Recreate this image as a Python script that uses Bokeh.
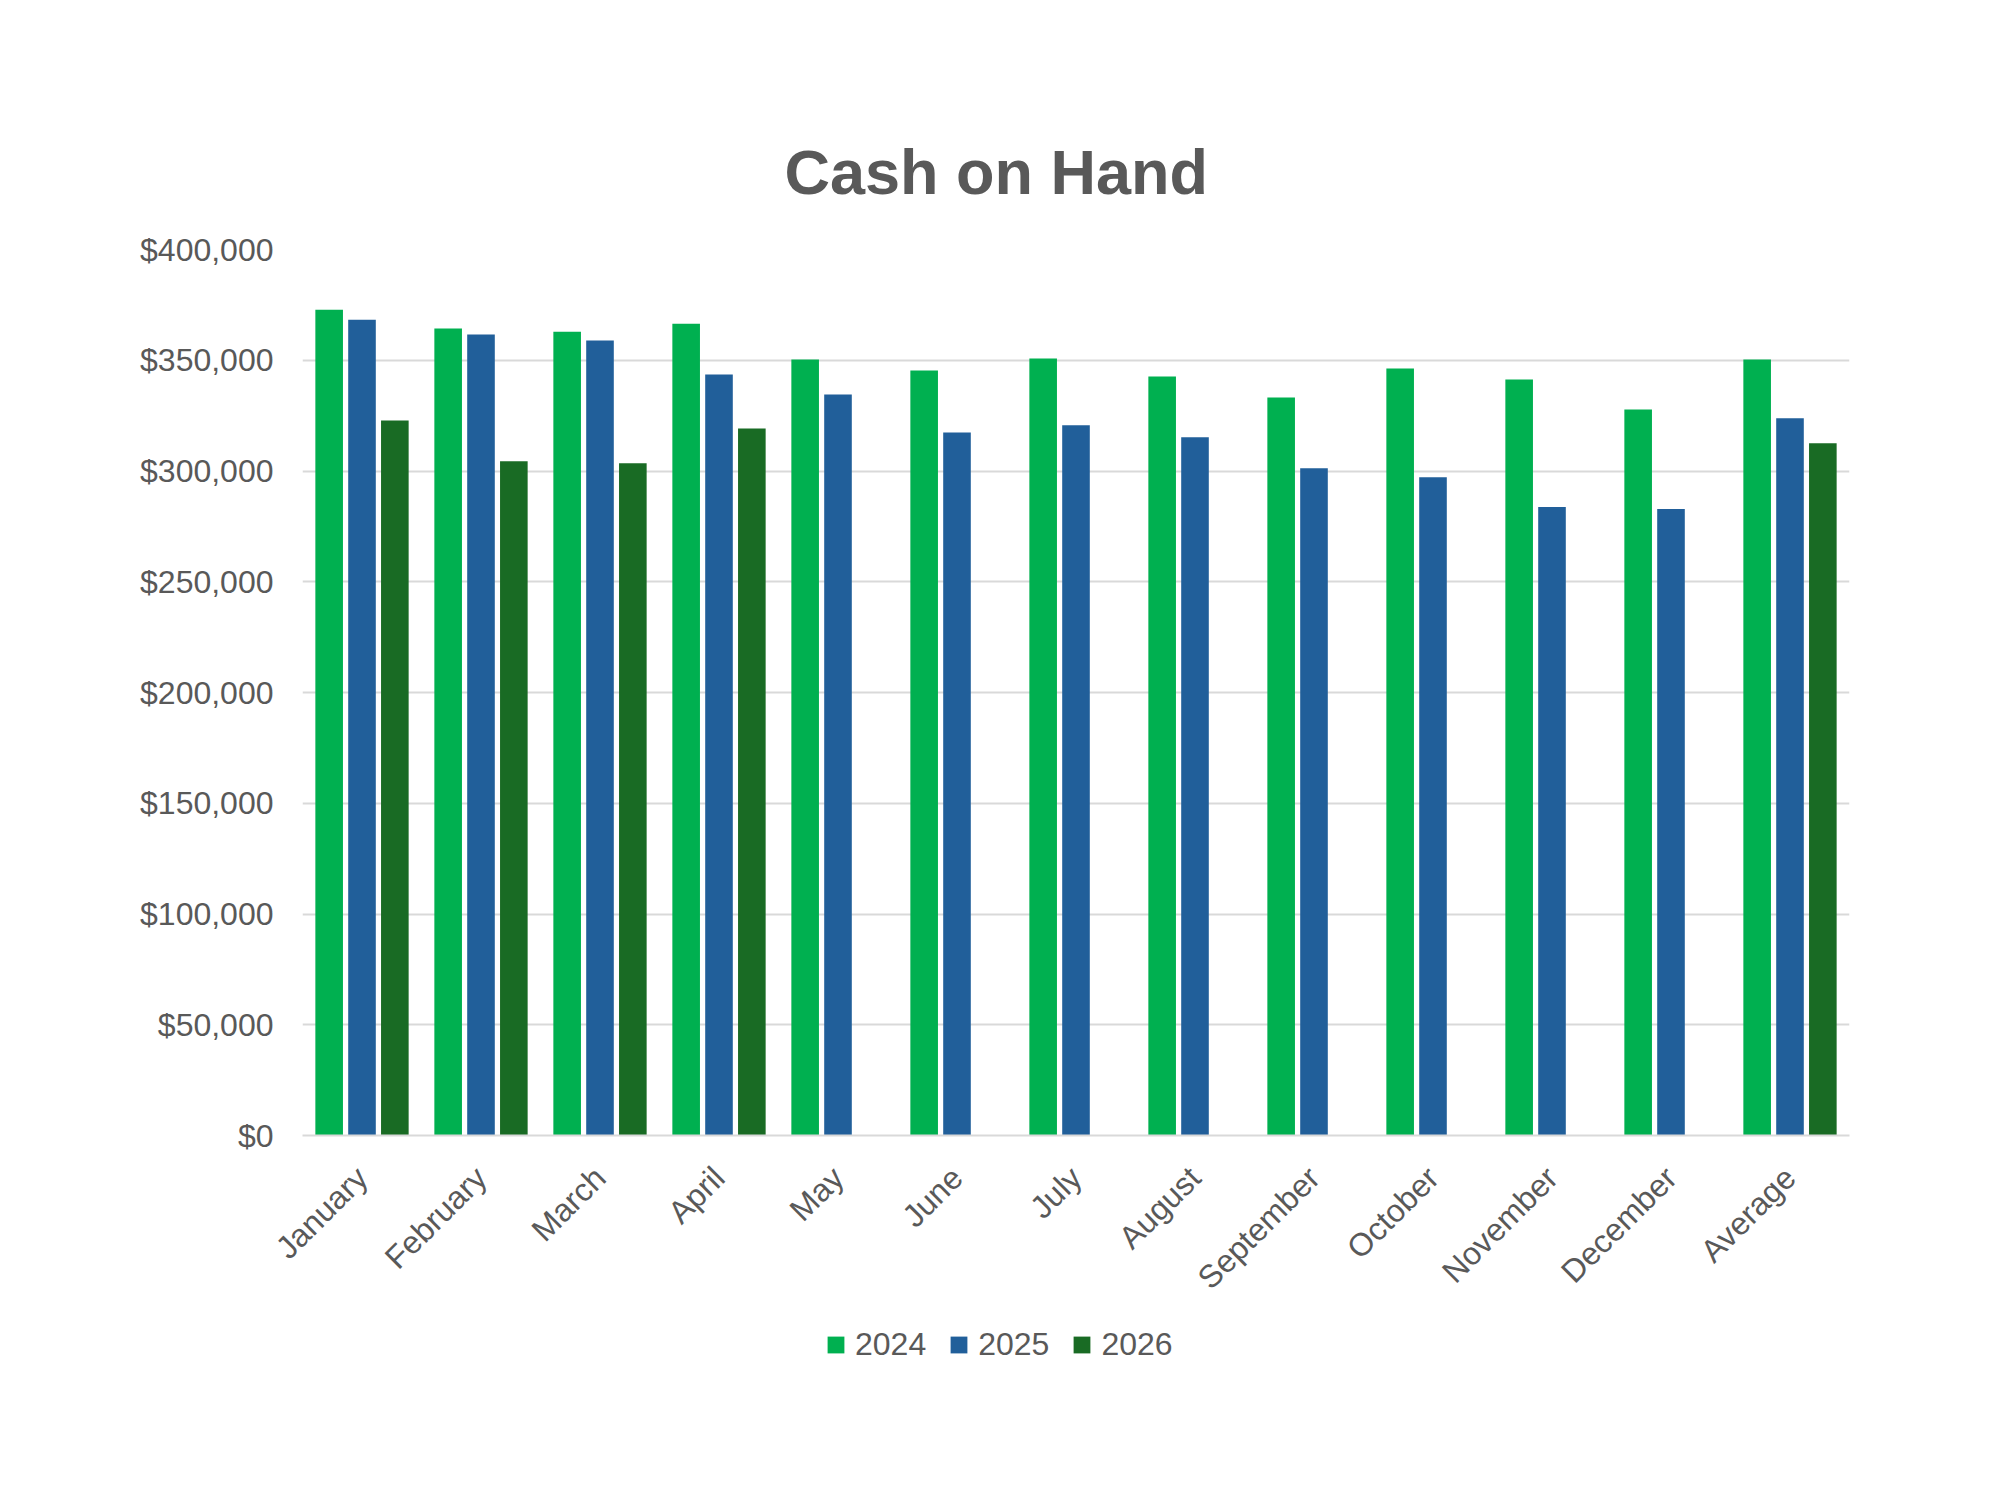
import math
from bokeh.plotting import figure
from bokeh.layouts import column
from bokeh.models import (ColumnDataSource, FactorRange, Range1d, Legend, LegendItem,
                          NumeralTickFormatter, FixedTicker)
from bokeh.transform import dodge
from bokeh.embed import file_html
from bokeh.resources import INLINE

# ---- data ----
months = ["January", "February", "March", "April", "May", "June", "July",
          "August", "September", "October", "November", "December", "Average"]
v2024 = [372800, 364300, 362900, 366500, 350300, 345400, 350800,
         342700, 333200, 346300, 341300, 327800, 350300]
v2025 = [368300, 361600, 358900, 343600, 334500, 317400, 320600,
         315200, 301200, 297200, 283700, 282800, 323800]
v2026 = [322800, 304400, 303500, 319200, None, None, None,
         None, None, None, None, None, 312500]
series_names = ["2024", "2025", "2026"]
y_ticks = [0, 50000, 100000, 150000, 200000, 250000, 300000, 350000, 400000]

colors = ["#00B050", "#215F9A", "#196B24"]
TEXT = "#595959"
GRID = "#D9D9D9"
FONT = "Liberation Sans"

p = figure(x_range=FactorRange(factors=months, range_padding=0),
           y_range=Range1d(0, 400000),
           frame_width=1547, frame_height=886,
           output_backend="svg", toolbar_location=None,
           min_border_left=302, min_border_right=135,
           min_border_top=249, min_border_bottom=172)

offsets = [-0.276, 0.0, 0.276]
for name, vals, col, off in zip(series_names, [v2024, v2025, v2026], colors, offsets):
    xs = [m for m, v in zip(months, vals) if v is not None]
    ys = [v for v in vals if v is not None]
    src = ColumnDataSource(data=dict(month=xs, value=ys))
    p.vbar(x=dodge("month", off, range=p.x_range), top="value", width=0.232,
           source=src, fill_color=col, line_color=None)

# axes
p.yaxis.ticker = FixedTicker(ticks=y_ticks)
p.yaxis.formatter = NumeralTickFormatter(format="$0,0")
p.yaxis.axis_line_color = None
p.yaxis.major_tick_line_color = None
p.yaxis.minor_tick_line_color = None
p.yaxis.major_tick_out = 0
p.yaxis.major_label_standoff = 29
p.yaxis.major_label_text_font = FONT
p.yaxis.major_label_text_font_size = "32px"
p.yaxis.major_label_text_color = TEXT

p.xaxis.axis_line_color = GRID
p.xaxis.axis_line_width = 2
p.xaxis.major_tick_line_color = None
p.xaxis.minor_tick_line_color = None
p.xaxis.major_tick_out = 0
p.xaxis.major_label_standoff = 37
p.xaxis.major_label_orientation = math.pi / 4
p.xaxis.major_label_text_font = FONT
p.xaxis.major_label_text_font_size = "32px"
p.xaxis.major_label_text_color = TEXT

p.xgrid.grid_line_color = None
p.ygrid.grid_line_color = GRID
p.ygrid.grid_line_width = 2
p.outline_line_color = None

# title
p.title.text = "Cash on Hand"
p.title.align = "left"
p.title.offset = 482
p.title.standoff = 86
p.title.text_font = FONT
p.title.text_font_size = "63px"
p.title.text_font_style = "bold"
p.title.text_color = TEXT

# legend strip (separate small figure directly under the chart)
leg = figure(frame_width=1984, frame_height=74, output_backend="svg", toolbar_location=None,
             x_axis_type=None, y_axis_type=None, min_border=0,
             x_range=Range1d(0, 1), y_range=Range1d(0, 1))
leg.outline_line_color = None
leg.grid.grid_line_color = None
items = []
for name, col in zip(series_names, colors):
    # zero-size carrier glyph: only its legend swatch is visible
    r = leg.vbar(x=[0], top=[0], bottom=[0], width=0, fill_color=col, line_color=None)
    items.append(LegendItem(label=name, renderers=[r]))
legend = Legend(items=items, orientation="horizontal", location=(825, 22),
                label_text_font=FONT, label_text_font_size="32px", label_text_color=TEXT,
                glyph_width=21, glyph_height=21, label_standoff=9, spacing=22,
                border_line_color=None, background_fill_alpha=0, margin=0, padding=2)
leg.add_layout(legend, "center")

layout = column(p, leg, spacing=0)
open("out.html", "w").write(file_html(layout, INLINE))
